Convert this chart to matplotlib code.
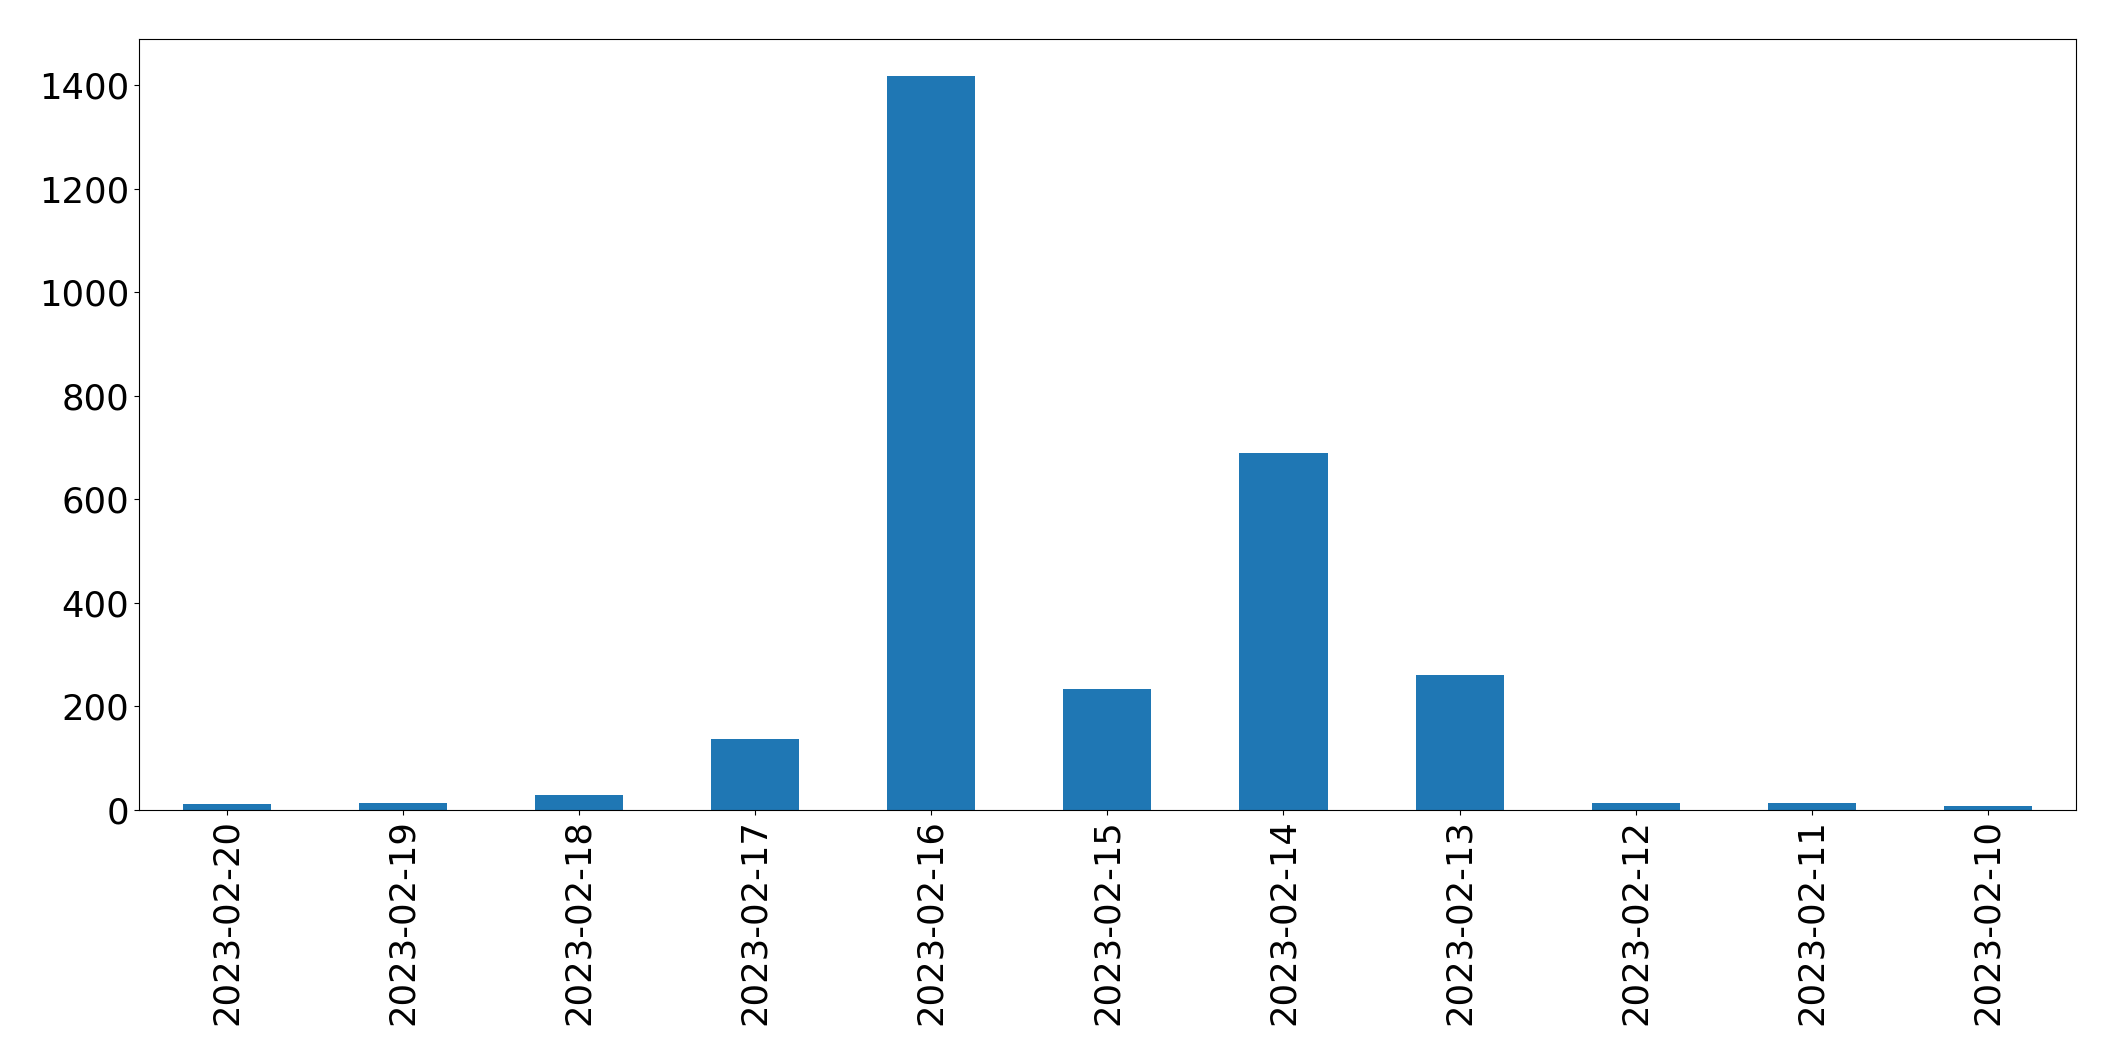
import numpy as np
import matplotlib.pyplot as plt

dates = ["2023-02-20", "2023-02-19", "2023-02-18", "2023-02-17", "2023-02-16",
         "2023-02-15", "2023-02-14", "2023-02-13", "2023-02-12", "2023-02-11",
         "2023-02-10"]
counts = [10, 12, 29, 137, 1418, 233, 690, 261, 12, 12, 6]

fig = plt.figure(figsize=(21.15, 10.61), dpi=100)
ax = fig.add_axes([0.0657, 0.237, 0.9158, 0.726])
x = np.arange(len(dates))
ax.bar(x, counts, width=0.5, color="#1f77b4")
ax.set_xlim(-0.5, len(dates) - 0.5)
ax.set_ylim(0, max(counts) * 1.05)
ax.set_xticks(x)
ax.set_xticklabels(dates, rotation=90)
ax.tick_params(labelsize=25.5)
fig.savefig("out.png", dpi=100)
